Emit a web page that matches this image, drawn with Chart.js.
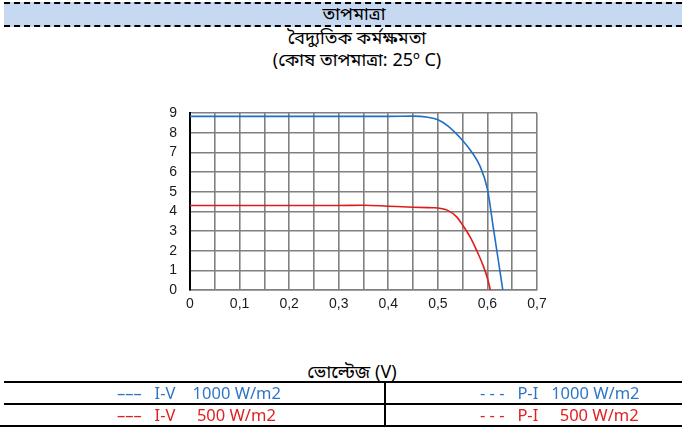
<!DOCTYPE html>
<html>
<head>
<meta charset="utf-8">
<script src="https://cdn.jsdelivr.net/npm/chart.js@4.4.0/dist/chart.umd.min.js"></script>
<style>
  body { margin: 0; width: 682px; height: 428px; position: relative; overflow: hidden; background: #fff;
         font-family: "Noto Sans", "Noto Sans Bengali", sans-serif; }
  #chart { position: absolute; left: 0; top: 0; }
  .band { position: absolute; left: 4px; top: 2px; width: 678px; height: 21px; background: #c6d9f0;
          border-top: 2px dashed #000; border-bottom: 2px dashed #000; }
  .txt { position: absolute; white-space: nowrap; transform: translateX(-50%); color: #000; font-size: 18px; }
  .hline { position: absolute; height: 2px; background: #000; }
  .vline { position: absolute; width: 2px; background: #000; }
  .leg { position: absolute; white-space: pre; font-size: 16.5px; line-height: 20px; }
</style>
</head>
<body>
<div class="band"></div>
<div class="txt" style="left:354px; top:1px; font-size:18px;">তাপমাত্রা</div>
<div class="txt" id="t1" style="left:357px; top:25px;"></div>
<div class="txt" id="t2" style="left:357px; top:47px;"></div>
<div class="txt" id="xt" style="left:352px; top:359px;"></div>
<canvas id="chart" width="682" height="428"></canvas>
<div class="hline" style="left:4px; top:381px; width:678px;"></div>
<div class="hline" style="left:4px; top:403px; width:678px;"></div>
<div class="hline" style="left:0px; top:425px; width:682px;"></div>
<div class="vline" style="left:384px; top:381px; height:46px;"></div>
<div class="leg" id="l1" style="left:117px; top:383px; color:#2e75c8;"></div>
<div class="leg" id="l2" style="left:480px; top:383px; color:#2e75c8;"></div>
<div class="leg" id="l3" style="left:117px; top:405px; color:#e02020;"></div>
<div class="leg" id="l4" style="left:480px; top:405px; color:#e02020;"></div>
<script>
// Titles and labels
const titleLines = ['বৈদ্যুতিক কর্মক্ষমতা', '(কোষ তাপমাত্রা: 25º C)'];
const xTitle = 'ভোল্টেজ (V)';
const legendLabels = ['–––   I-V    1000 W/m2', '- - -   P-I   1000 W/m2', '–––   I-V     500 W/m2', '- - -   P-I     500 W/m2'];

// x tick labels (every 0.1), grid every 0.05
const xTickLabels = ['0', '0,1', '0,2', '0,3', '0,4', '0,5', '0,6', '0,7'];

// I-V curve at 1000 W/m2
const v1000 = [0, 0.1, 0.2, 0.3, 0.4, 0.45, 0.48, 0.5, 0.52, 0.55, 0.57, 0.585, 0.6, 0.612, 0.622, 0.631];
const i1000 = [8.83, 8.83, 8.83, 8.83, 8.83, 8.84, 8.78, 8.66, 8.35, 7.6, 6.95, 6.3, 5.13, 3.15, 1.5, 0];

// I-V curve at 500 W/m2
const v500 = [0, 0.1, 0.2, 0.3, 0.35, 0.4, 0.45, 0.49, 0.5, 0.52, 0.538, 0.55, 0.565, 0.578, 0.592, 0.6, 0.606];
const i500 = [4.3, 4.3, 4.3, 4.3, 4.31, 4.26, 4.21, 4.18, 4.17, 4.05, 3.72, 3.3, 2.7, 2.03, 1.2, 0.6, 0];

document.getElementById('t1').textContent = titleLines[0];
document.getElementById('t2').textContent = titleLines[1];
document.getElementById('xt').textContent = xTitle;
['l1', 'l2', 'l3', 'l4'].forEach((id, i) => {
    document.getElementById(id).textContent = legendLabels[i];
});

const toPoints = (xs, ys) => xs.map((x, i) => ({ x: x, y: ys[i] }));

const ctx = document.getElementById('chart').getContext('2d');
new Chart(ctx, {
    type: 'scatter',
    data: {
        datasets: [{
            data: toPoints(v1000, i1000),
            showLine: true,
            borderColor: '#1f6fc6',
            borderWidth: 1.6,
            pointRadius: 0,
            cubicInterpolationMode: 'monotone'
        }, {
            data: toPoints(v500, i500),
            showLine: true,
            borderColor: '#e01b1b',
            borderWidth: 1.6,
            pointRadius: 0,
            cubicInterpolationMode: 'monotone'
        }]
    },
    options: {
        responsive: false,
        animation: false,
        layout: { padding: { left: 150, right: 145, top: 113, bottom: 108 } },
        plugins: { legend: { display: false }, tooltip: { enabled: false } },
        scales: {
            x: {
                min: 0,
                max: 0.7,
                afterFit: (s) => { s.height = 30; },
                grid: { color: '#808080', lineWidth: 1.6, drawTicks: false },
                border: { color: '#808080', width: 1.6 },
                ticks: {
                    stepSize: 0.05,
                    autoSkip: false,
                    maxRotation: 0,
                    padding: 6,
                    color: '#1a1a1a',
                    font: { family: 'Liberation Sans', size: 14 },
                    callback: (v, i) => (i % 2 === 0 ? xTickLabels[i / 2] : '')
                }
            },
            y: {
                min: 0,
                max: 9,
                afterFit: (s) => { s.width = 40; },
                grid: { color: '#808080', lineWidth: 1.6, drawTicks: false },
                border: { color: '#000', width: 2 },
                ticks: {
                    stepSize: 1,
                    autoSkip: false,
                    padding: 13,
                    color: '#1a1a1a',
                    font: { family: 'Liberation Sans', size: 14 }
                }
            }
        }
    }
});
</script>
</body>
</html>
